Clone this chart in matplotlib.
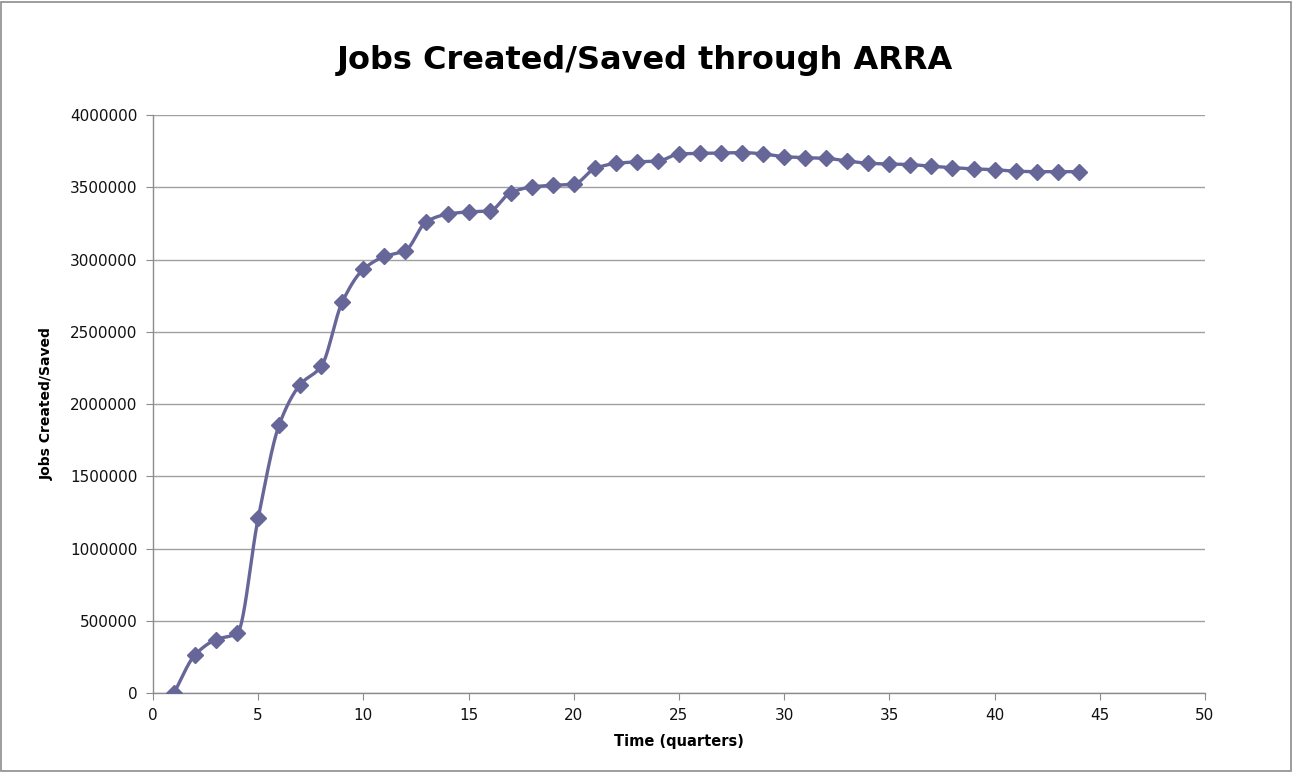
import numpy as np
import matplotlib
matplotlib.use("Agg")
import matplotlib.pyplot as plt
from matplotlib.patches import Rectangle

# Quarterly jobs created/saved
quarters = list(range(1, 45))
jobs = [
    0, 264000, 370000, 412000, 1209000, 1856000, 2135000, 2261000, 2707000, 2932000,
    3021000, 3062000, 3263000, 3314000, 3330000, 3336000, 3463000, 3502000, 3514000, 3520000,
    3630000, 3665000, 3676000, 3681000, 3730000, 3735000, 3737000, 3740000, 3731000, 3712000,
    3705000, 3700000, 3682000, 3666000, 3661000, 3657000, 3645000, 3636000, 3627000, 3622000,
    3611000, 3608000, 3608000, 3608000,
]
x_ticks = list(range(0, 55, 5))
y_ticks = list(range(0, 4500000, 500000))

COLOR = "#666699"


def smooth_curve(xs, ys, n=24):
    """Monotone cubic (Fritsch-Carlson) curve through the points."""
    xs = np.asarray(xs, float)
    ys = np.asarray(ys, float)
    h = np.diff(xs)
    d = np.diff(ys) / h
    m = np.zeros_like(ys)
    m[0], m[-1] = d[0], d[-1]
    for k in range(1, len(xs) - 1):
        if d[k - 1] * d[k] <= 0:
            m[k] = 0.0
        else:
            w1 = 2 * h[k] + h[k - 1]
            w2 = h[k] + 2 * h[k - 1]
            m[k] = (w1 + w2) / (w1 / d[k - 1] + w2 / d[k])
    out_x, out_y = [], []
    t = np.linspace(0, 1, n, endpoint=False)
    for k in range(len(xs) - 1):
        h00 = 2 * t ** 3 - 3 * t ** 2 + 1
        h10 = t ** 3 - 2 * t ** 2 + t
        h01 = -2 * t ** 3 + 3 * t ** 2
        h11 = t ** 3 - t ** 2
        out_x.extend(xs[k] + t * h[k])
        out_y.extend(h00 * ys[k] + h10 * h[k] * m[k] + h01 * ys[k + 1] + h11 * h[k] * m[k + 1])
    out_x.append(xs[-1])
    out_y.append(ys[-1])
    return np.array(out_x), np.array(out_y)


fig = plt.figure(figsize=(12.94, 7.72), dpi=100)
ax = fig.add_axes([0.1182, 0.1023, 0.813, 0.7487])

sx, sy = smooth_curve(quarters, jobs)
ax.plot(sx, sy, color=COLOR, lw=2.4, zorder=3, solid_capstyle="round")
ax.plot(quarters, jobs, linestyle="none", marker="D", markersize=8,
        color=COLOR, markeredgecolor=COLOR, zorder=4)

ax.set_xlim(0, 50)
ax.set_ylim(0, 4000000)
ax.set_xticks(x_ticks)
ax.set_yticks(y_ticks)
ax.set_xticklabels([str(v) for v in x_ticks])
ax.set_yticklabels([str(v) for v in y_ticks])

ax.grid(axis="y", color="#a0a0a0", lw=1.0)
ax.set_axisbelow(True)
for side in ("top", "right"):
    ax.spines[side].set_visible(False)
for side in ("left", "bottom"):
    ax.spines[side].set_color("#8c8c8c")
    ax.spines[side].set_linewidth(1.0)
ax.tick_params(axis="both", direction="out", length=5, color="#8c8c8c",
               labelsize=11, pad=6, labelcolor="#111111")

ax.set_xlabel("Time (quarters)", fontsize=10.5, fontweight="bold", labelpad=8)
ax.set_ylabel("Jobs Created/Saved", fontsize=10, fontweight="bold", labelpad=12)
fig.text(0.4985, 0.921, "Jobs Created/Saved through ARRA", ha="center", va="center",
         fontsize=23, fontweight="bold")

# figure frame
fig.patches.append(Rectangle((0.001, 0.001), 0.997, 0.997, transform=fig.transFigure,
                             fill=False, edgecolor="#8c8c8c", lw=1.2))

fig.savefig("out.png", dpi=100)
